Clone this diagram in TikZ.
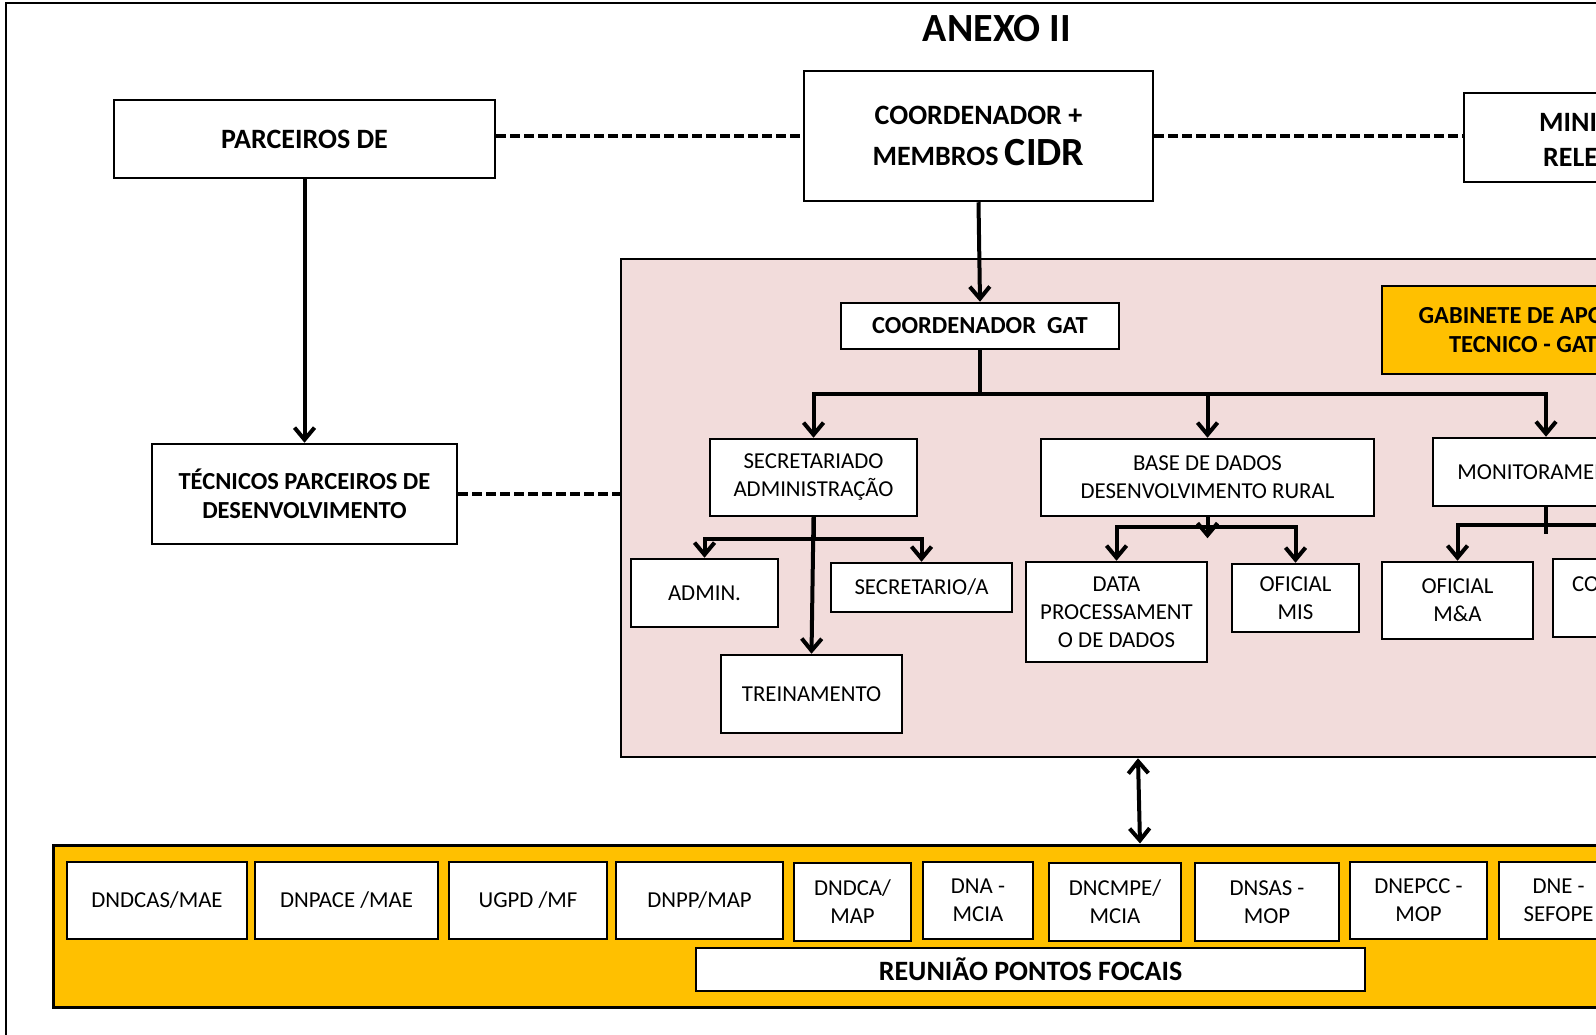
\documentclass[tikz,border=0pt]{standalone}
\usepackage{fontspec}
\setmainfont{Carlito}
\usetikzlibrary{arrows.meta}
\definecolor{rosagat}{RGB}{242,220,219}
\definecolor{amarelo}{RGB}{255,192,0}

\begin{document}
\begin{tikzpicture}[x=1pt, y=-1pt,
    caixa/.style={draw, line width=2.5pt, fill=white, inner sep=0pt, align=center,
                  font=\fontsize{22.8}{28}\selectfont},
    caixab/.style={caixa, font=\bfseries\fontsize{24.5}{29}\selectfont},
    caixag/.style={caixa, font=\bfseries\fontsize{28}{35}\selectfont},
    seta/.style={line width=4pt, -{Straight Barb[length=12pt,width=20pt]}},
    seta2/.style={line width=4pt, {Straight Barb[length=12pt,width=20pt]}-{Straight Barb[length=12pt,width=20pt]}},
    linha/.style={line width=4pt},
    tracejado/.style={line width=4pt, dash pattern=on 10pt off 4pt}]
  \useasboundingbox (0,0) rectangle (1596,1035);
  \clip (0,0) rectangle (1596,1035);
  \draw[line width=2pt] (6,3) rectangle (1700,1100);

  \node[font=\bfseries\fontsize{40}{48}\selectfont] (titulo) at (997,29) {ANEXO II};

  \node[caixag, minimum width=381pt, minimum height=78pt] (parceiros) at (304.5,139) {PARCEIROS DE};
  \node[caixag, minimum width=349pt, minimum height=130pt] (coord) at (978.5,136)
    {COORDENADOR +\\[6pt]MEMBROS {\fontsize{40}{40}\selectfont CIDR}};
  \node[caixag, minimum width=304pt, minimum height=89pt] (ministerios) at (1616,137.5)
    {MINISTÉRIOS\\RELEVANTES};
  \node[caixab, minimum width=305pt, minimum height=100pt] (tecnicos) at (304.5,494)
    {TÉCNICOS PARCEIROS DE\\DESENVOLVIMENTO};

  \node[draw, line width=2.5pt, fill=rosagat, inner sep=0pt,
        minimum width=1179pt, minimum height=498pt] (rosa) at (1210.5,508) {};
  \node[caixab, minimum width=278pt, minimum height=46pt] (gat) at (980,326) {COORDENADOR~~GAT};
  \node[caixab, fill=amarelo, minimum width=282pt, minimum height=88pt] (gabinete) at (1523,330)
    {GABINETE DE APOIO\\TECNICO - GAT};

  \node[caixa, minimum width=207pt, minimum height=77pt] (secretariado) at (813.5,477.5)
    {SECRETARIADO\\ADMINISTRAÇÃO};
  \node[caixa, minimum width=333pt, minimum height=77pt] (base) at (1207.5,477.5)
    {BASE DE DADOS\\DESENVOLVIMENTO RURAL};
  \node[caixa, minimum width=226pt, minimum height=68pt] (monitor) at (1546,472) {MONITORAMENTO};

  \node[caixa, minimum width=147pt, minimum height=68pt] (admin) at (704.5,593) {ADMIN.};
  \node[caixa, minimum width=181pt, minimum height=49pt] (secretario) at (921.5,587.5) {SECRETARIO/A};
  \node[caixa, minimum width=181pt, minimum height=78pt] (treino) at (811.5,694) {TREINAMENTO};
  \node[caixa, minimum width=181pt, minimum height=100pt] (dataproc) at (1116.5,612)
    {DATA\\PROCESSAMENT\\O DE DADOS};
  \node[caixa, minimum width=127pt, minimum height=68pt] (mis) at (1295.5,598) {OFICIAL\\MIS};
  \node[caixa, minimum width=151pt, minimum height=77pt] (ma) at (1457.5,600.5) {OFICIAL\\M\&A};
  \node[caixa, minimum width=151pt, minimum height=78pt] (consultor) at (1628.5,598) {CONSULTOR\\M\&A};

  \node[draw, line width=3pt, fill=amarelo, inner sep=0pt,
        minimum width=1747pt, minimum height=162pt] (pontos) at (926.5,926) {};
  \node[caixa, minimum width=180pt, minimum height=77pt] (dndcas) at (157,900.5) {DNDCAS/MAE};
  \node[caixa, minimum width=183pt, minimum height=77pt] (dnpace) at (346.5,900.5) {DNPACE /MAE};
  \node[caixa, minimum width=158pt, minimum height=77pt] (ugpd) at (528,900.5) {UGPD /MF};
  \node[caixa, minimum width=167pt, minimum height=77pt] (dnpp) at (699.5,900.5) {DNPP/MAP};
  \node[caixa, minimum width=117pt, minimum height=78pt] (dndca) at (852.5,902) {DNDCA/\\MAP};
  \node[caixa, minimum width=110pt, minimum height=77pt] (dna) at (978,900.5) {DNA -\\MCIA};
  \node[caixa, minimum width=132pt, minimum height=78pt] (dncmpe) at (1115,902) {DNCMPE/\\MCIA};
  \node[caixa, minimum width=144pt, minimum height=78pt] (dnsas) at (1267,902) {DNSAS -\\MOP};
  \node[caixa, minimum width=137pt, minimum height=77pt] (dnepcc) at (1418.5,900.5) {DNEPCC -\\MOP};
  \node[caixa, minimum width=119pt, minimum height=77pt] (dne) at (1558.5,900.5) {DNE -\\SEFOPE};
  \node[caixa, font=\bfseries\fontsize{28}{34}\selectfont, minimum width=669pt, minimum height=43pt]
    (reuniao) at (1030.5,969.5) {REUNIÃO PONTOS FOCAIS};

  \draw[tracejado] (parceiros.east |- coord.west) -- (coord.west);
  \draw[tracejado] (coord.east) -- (coord.east -| ministerios.west);
  \draw[tracejado] (tecnicos.east) -- (tecnicos.east -| rosa.west);
  \draw[seta] (parceiros.south) -- (tecnicos.north);
  \draw[seta] (coord.south) -- (gat.north);

  \draw[seta] (gat.south) -- ++(0,44) -| (secretariado.north);
  \draw[seta] (gat.south) -- ++(0,44) -| (base.north);
  \draw[seta] (gat.south) -- ++(0,44) -| (monitor.north);

  \draw[seta] (secretariado.south) -- ++(0,22) -| (admin.north);
  \draw[seta] (secretariado.south) -- ++(0,22) -| (secretario.north);
  \draw[seta] (secretariado.south) -- (treino.north);

  \draw[seta] (base.south) -- ++(0,10) -| (dataproc.north);
  \draw[seta] (base.south) -- ++(0,10) -| (mis.north);
  \draw[seta] (base.south) -- ++(0,21);

  \draw[linha] (monitor.south) -- ++(0,27);
  \draw[seta] (monitor.south) -- ++(0,18) -| (ma.north);
  \draw[seta] (monitor.south) -- ++(0,18) -| (consultor.north);

  \draw[seta2] (rosa.south -| 1138,0) -- (pontos.north -| 1140,0);
\end{tikzpicture}
\end{document}
